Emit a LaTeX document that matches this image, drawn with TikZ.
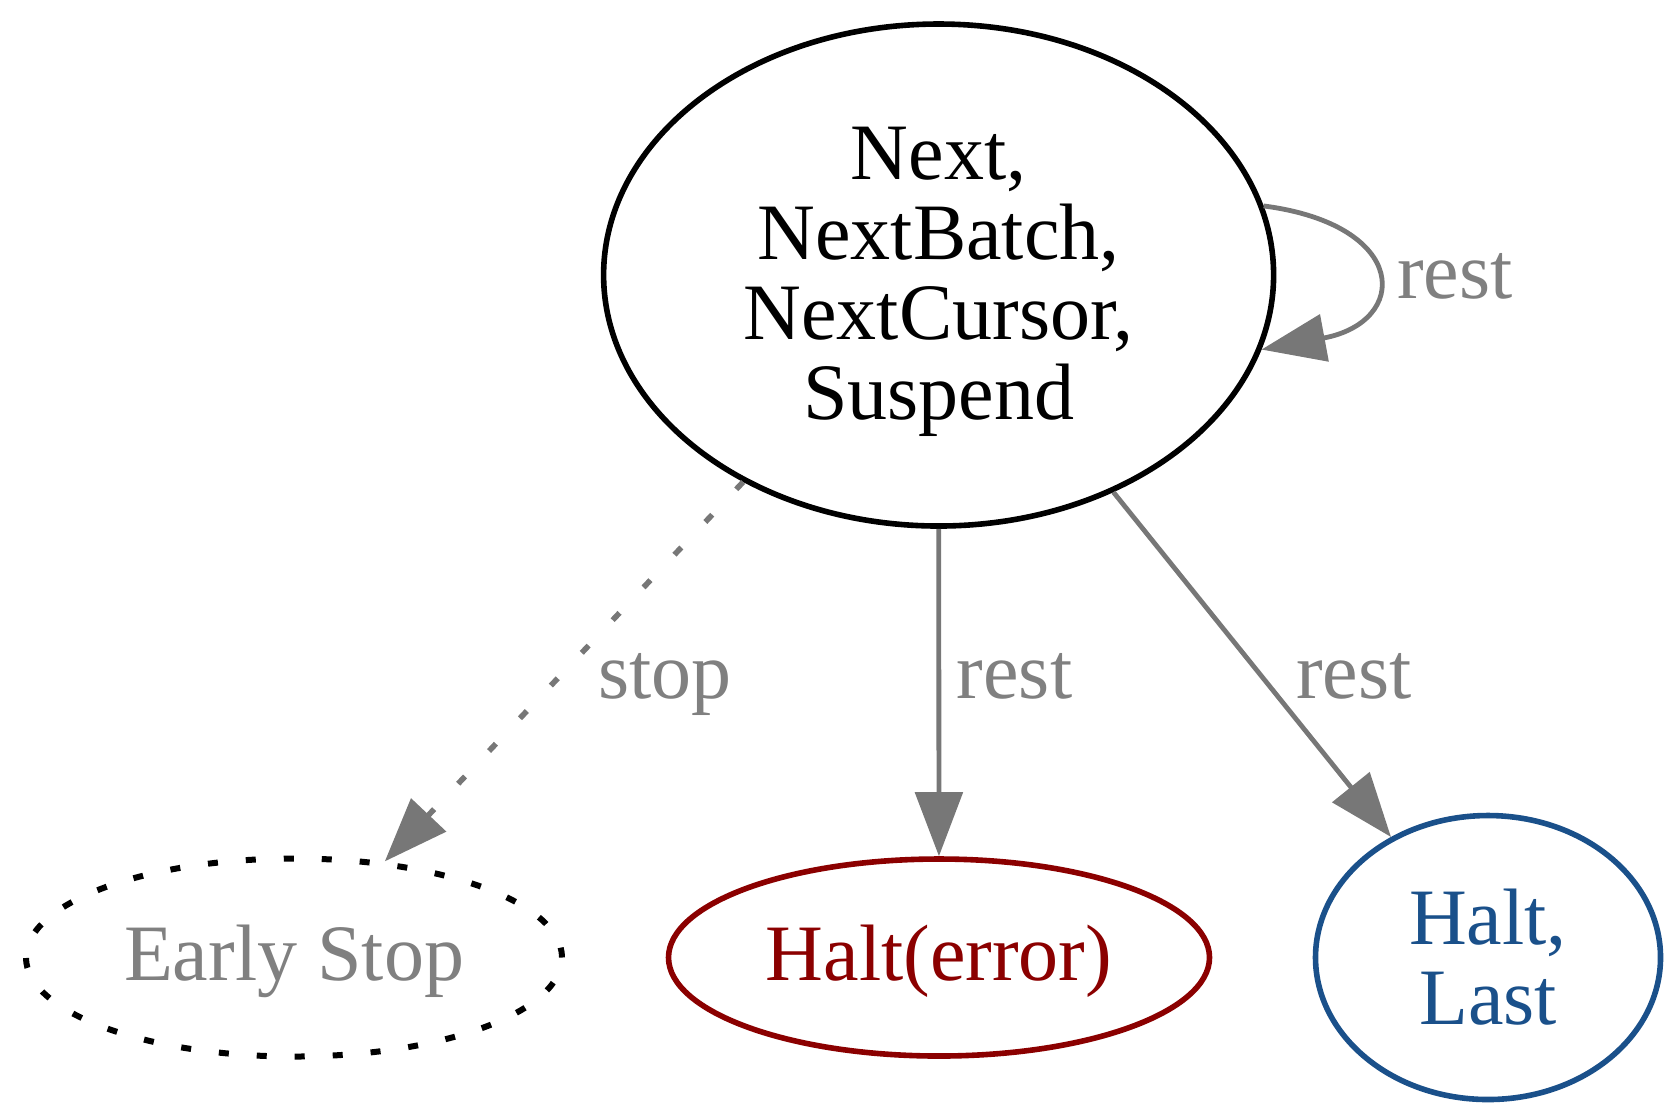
\documentclass[tikz,border=0pt]{standalone}
\usepackage{fontspec}
\setmainfont{Liberation Serif}
\usetikzlibrary{arrows.meta,shapes.geometric}
\definecolor{edgegray}{RGB}{119,119,119}
\definecolor{labelgray}{RGB}{128,128,128}
\definecolor{haltred}{RGB}{139,0,0}
\definecolor{haltblue}{RGB}{26,80,138}
\begin{document}
\begin{tikzpicture}[x=0.25pt,y=-0.25pt,
  state/.style={ellipse, draw, line width=1.4pt, inner sep=0pt, align=center,
    font=\fontsize{20}{20}\selectfont},
  edgeline/.style={draw=edgegray, line width=1.2pt,
    -{Triangle[length=16pt,width=11.8pt]}},
  lbl/.style={anchor=base, inner sep=0pt, text=labelgray,
    font=\fontsize{20}{20}\selectfont}
]
\useasboundingbox (0,0) rectangle (1678,1118);
\node[state, minimum width=167.5pt, minimum height=125.5pt] (main) at (938.6,275)
  {\raisebox{-2pt}[\height][\depth]{\begin{tabular}{@{}c@{}}Next,\\NextBatch,\\NextCursor,\\Suspend\end{tabular}}};
\node[state, draw=black, dash pattern=on 2.5pt off 7pt, line width=1.5pt, text=labelgray,
  minimum width=134pt, minimum height=49.5pt] (early) at (294,957.5)
  {\raisebox{-1pt}[\height][\depth]{Early Stop}};
\node[state, draw=haltred, text=haltred, minimum width=135.25pt, minimum height=49.25pt]
  (err) at (939,957.5) {\raisebox{-1pt}[\height][\depth]{Halt(error)}};
\node[state, draw=haltblue, text=haltblue, minimum width=86.25pt, minimum height=71pt]
  (last) at (1488,957.5) {Halt,\\Last};

\draw[edgeline, dash pattern=on 2.5pt off 8.75pt, line width=1.4pt] (main) -- (early);
\draw[edgeline] (main) -- (err);
\draw[edgeline] (main) -- (last);
\draw[edgeline] (main.12.5) .. controls (1410,225) and (1410,322) .. (main.-13);

\node[lbl] (lstop) at (665,698) {stop};
\node[lbl] (lrest1) at (1014.5,698) {rest};
\node[lbl] (lrest2) at (1354,698) {rest};
\node[lbl] (lrest3) at (1455,298) {rest};
\end{tikzpicture}
\end{document}
